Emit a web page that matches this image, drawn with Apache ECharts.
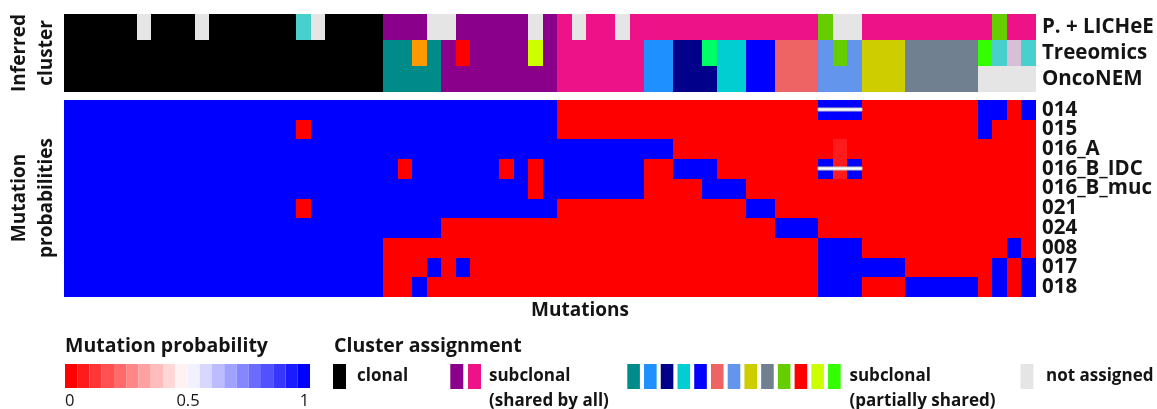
<!DOCTYPE html>
<html>
<head>
<meta charset="utf-8">
<script src="https://cdn.jsdelivr.net/npm/echarts@6/dist/echarts.min.js"></script>
<style>
  html, body { margin: 0; padding: 0; background: #ffffff; }
  #chart { width: 1157px; height: 409px; }
</style>
</head>
<body>
<div id="chart"></div>
<script>
// ---- data -------------------------------------------------------------
const methods = ['P. + LICHeE', 'Treeomics', 'OncoNEM'];
const samples = ['014', '015', '016_A', '016_B_IDC', '016_B_muc', '021', '024', '008', '017', '018'];

// Cluster assignment of each mutation (one array per method, 67 mutations)
const clusterLICHeE = [
  'K','K','K','K','K','NA','K','K','K','NA',
  'K','K','K','K','K','K','MT','NA','K','K',
  'K','K','PU','PU','PU','NA','NA','PU','PU','PU',
  'PU','PU','NA','PU','PK','NA','PK','PK','NA','PK',
  'PK','PK','PK','PK','PK','PK','PK','PK','PK','PK',
  'PK','PK','GR','NA','NA','PK','PK','PK','PK','PK',
  'PK','PK','PK','PK','GR','PK','PK'
];
const clusterTreeomics = [
  'K','K','K','K','K','K','K','K','K','K',
  'K','K','K','K','K','K','K','K','K','K',
  'K','K','TE','TE','OR','TE','PU','RD','PU','PU',
  'PU','PU','YG','PU','PK','PK','PK','PK','PK','PK',
  'DB','DB','NV','NV','SG','DT','DT','BL','BL','CO',
  'CO','CO','CF','GR','CF','YE','YE','YE','SL','SL',
  'SL','SL','SL','BG','MT','TH','MT'
];
const clusterOncoNEM = [
  'K','K','K','K','K','K','K','K','K','K',
  'K','K','K','K','K','K','K','K','K','K',
  'K','K','TE','TE','TE','TE','PU','PU','PU','PU',
  'PU','PU','PU','PU','PK','PK','PK','PK','PK','PK',
  'DB','DB','NV','NV','NV','DT','DT','BL','BL','CO',
  'CO','CO','CF','CF','CF','YE','YE','YE','SL','SL',
  'SL','SL','SL','NA','NA','NA','NA'
];

// Mutation probability per sample (67 mutations each)
const prob014 = [
  1,1,1,1,1,1,1,1,1,1, 1,1,1,1,1,1,1,1,1,1, 1,1,1,1,1,1,1,1,1,1,
  1,1,1,1,0,0,0,0,0,0, 0,0,0,0,0,0,0,0,0,0, 0,0,1,1,1,0,0,0,0,0,
  0,0,0,1,1,0,1
];
const prob015 = [
  1,1,1,1,1,1,1,1,1,1, 1,1,1,1,1,1,0,1,1,1, 1,1,1,1,1,1,1,1,1,1,
  1,1,1,1,0,0,0,0,0,0, 0,0,0,0,0,0,0,0,0,0, 0,0,0,0,0,0,0,0,0,0,
  0,0,0,1,0,0,0
];
const prob016A = [
  1,1,1,1,1,1,1,1,1,1, 1,1,1,1,1,1,1,1,1,1, 1,1,1,1,1,1,1,1,1,1,
  1,1,1,1,1,1,1,1,1,1, 1,1,0,0,0,0,0,0,0,0, 0,0,0,0.06,0,0,0,0,0,0,
  0,0,0,0,0,0,0
];
const prob016BIDC = [
  1,1,1,1,1,1,1,1,1,1, 1,1,1,1,1,1,1,1,1,1, 1,1,1,0,1,1,1,1,1,1,
  0,1,0,1,1,1,1,1,1,1, 0,0,1,1,1,0,0,0,0,0, 0,0,1,0.06,1,0,0,0,0,0,
  0,0,0,0,0,0,0
];
const prob016Bmuc = [
  1,1,1,1,1,1,1,1,1,1, 1,1,1,1,1,1,1,1,1,1, 1,1,1,1,1,1,1,1,1,1,
  1,1,0,1,1,1,1,1,1,1, 0,0,0,0,1,1,1,0,0,0, 0,0,0,0,0,0,0,0,0,0,
  0,0,0,0,0,0,0
];
const prob021 = [
  1,1,1,1,1,1,1,1,1,1, 1,1,1,1,1,1,0,1,1,1, 1,1,1,1,1,1,1,1,1,1,
  1,1,1,1,0,0,0,0,0,0, 0,0,0,0,0,0,0,1,1,0, 0,0,0,0,0,0,0,0,0,0,
  0,0,0,0,0,0,0
];
const prob024 = [
  1,1,1,1,1,1,1,1,1,1, 1,1,1,1,1,1,1,1,1,1, 1,1,1,1,1,1,0,0,0,0,
  0,0,0,0,0,0,0,0,0,0, 0,0,0,0,0,0,0,0,0,1, 1,1,0,0,0,0,0,0,0,0,
  0,0,0,0,0,0,0
];
const prob008 = [
  1,1,1,1,1,1,1,1,1,1, 1,1,1,1,1,1,1,1,1,1, 1,1,0,0,0,0,0,0,0,0,
  0,0,0,0,0,0,0,0,0,0, 0,0,0,0,0,0,0,0,0,0, 0,0,1,1,1,0,0,0,0,0,
  0,0,0,0,0,1,0
];
const prob017 = [
  1,1,1,1,1,1,1,1,1,1, 1,1,1,1,1,1,1,1,1,1, 1,1,0,0,0,1,0,1,0,0,
  0,0,0,0,0,0,0,0,0,0, 0,0,0,0,0,0,0,0,0,0, 0,0,1,1,1,1,1,1,0,0,
  0,0,0,0,1,0,1
];
const prob018 = [
  1,1,1,1,1,1,1,1,1,1, 1,1,1,1,1,1,1,1,1,1, 1,1,0,0,1,0,0,0,0,0,
  0,0,0,0,0,0,0,0,0,0, 0,0,0,0,0,0,0,0,0,0, 0,0,1,1,1,0,0,0,1,1,
  1,1,1,0,1,0,1
];

// Mutations whose calls in a sample are flagged (from, to, sample)
const flaggedSpans = [[52, 54, '014'], [52, 54, '016_B_IDC']];

// Legend tick labels for the probability scale
const probTicks = ['0', '0.5', '1'];

// ---- styling ----------------------------------------------------------
const clusterColors = {
  K: '#000000', PU: '#8b008b', PK: '#ee1289', NA: '#e5e5e5',
  TE: '#008b8b', DB: '#1e90ff', NV: '#00008b', DT: '#00ced1', BL: '#0000ff',
  CO: '#ee6363', CF: '#6495ed', YE: '#cdcd00', SL: '#708090', GR: '#66cd00',
  RD: '#ff0000', YG: '#ccff00', BG: '#33ff00', OR: '#ff9900', SG: '#00ff66',
  MT: '#48d1cc', TH: '#d8bfd8'
};
const partialKeys = ['TE','DB','NV','DT','BL','CO','CF','YE','SL','GR','RD','YG','BG'];

const FONT = '"Open Sans", sans-serif';
const INK = '#141414';

// ---- assemble series data ---------------------------------------------
const clusterRows = [clusterLICHeE, clusterTreeomics, clusterOncoNEM];
const probRows = [prob014, prob015, prob016A, prob016BIDC, prob016Bmuc, prob021, prob024, prob008, prob017, prob018];
const mutationIds = clusterLICHeE.map((_, i) => 'mut' + (i + 1));

const clusterData = [];
const clusterKeys = [];
clusterRows.forEach((row, r) => row.forEach((key, c) => {
  clusterData.push([c, r]);
  clusterKeys.push(key);
}));

const probData = [];
probRows.forEach((row, r) => row.forEach((v, c) => probData.push([c, r, v])));

const flaggedData = flaggedSpans.map(s => [s[0], s[1], samples.indexOf(s[2])]);

// 20-step red-white-blue scale
function scaleColor(t) {
  let r, g, b;
  if (t < 0.5) { r = 255; g = b = Math.round(255 * t / 0.5); }
  else { r = g = Math.round(255 * (1 - t) / 0.5); b = 255; }
  return 'rgb(' + r + ',' + g + ',' + b + ')';
}
const pieces = [];
for (let i = 0; i < 20; i++) {
  const p = { gte: i / 20, color: scaleColor(i / 19) };
  if (i < 19) p.lt = (i + 1) / 20; else p.lte = 1;
  pieces.push(p);
}

// Cell rectangle snapped to whole pixels so neighbouring cells meet without seams
function snap(v) { return Math.round(v + 1e-6); }
function cellShape(api) {
  const p = api.coord([api.value(0), api.value(1)]);
  const s = api.size([1, 1]);
  const x0 = snap(p[0] - s[0] / 2), x1 = snap(p[0] + s[0] / 2);
  const y0 = snap(p[1] - s[1] / 2), y1 = snap(p[1] + s[1] / 2);
  return { x: x0, y: y0, width: x1 - x0, height: y1 - y0 };
}

// ---- legend graphics --------------------------------------------------
function txt(x, y, text, opts) {
  opts = opts || {};
  return {
    type: 'text', x: x, y: y, rotation: opts.rotation || 0, silent: true,
    style: {
      text: text, fill: INK,
      font: (opts.weight || '700') + ' ' + (opts.size || 19) + 'px ' + FONT,
      textAlign: opts.align || 'left', align: opts.align || 'left',
      textVerticalAlign: 'middle', verticalAlign: 'middle',
      lineHeight: opts.lineHeight || 22
    }
  };
}
function swatch(x, color, w) {
  return { type: 'rect', silent: true, shape: { x: x, y: 364, width: w || 13, height: 25 }, style: { fill: color } };
}

const graphics = [
  txt(33, 53, 'Inferred\ncluster', { rotation: Math.PI / 2, align: 'center', lineHeight: 27 }),
  txt(33, 198, 'Mutation\nprobabilities', { rotation: Math.PI / 2, align: 'center', lineHeight: 27 }),
  txt(580, 311, 'Mutations', { align: 'center' }),
  txt(65, 346, 'Mutation probability', { size: 19.5 }),
  txt(65, 401, probTicks[0], { weight: '400', size: 16.5 }),
  txt(188, 401, probTicks[1], { weight: '400', size: 16.5, align: 'center' }),
  txt(304.5, 401, probTicks[2], { weight: '400', size: 16.5, align: 'center' }),
  txt(334, 346, 'Cluster assignment', { size: 19.5 }),
  swatch(333, clusterColors.K),
  txt(357, 376, 'clonal', { size: 17 }),
  swatch(450.3, clusterColors.PU),
  swatch(468, clusterColors.PK),
  txt(489, 376, 'subclonal', { size: 17 }),
  txt(489, 401, '(shared by all)', { size: 17 }),
  txt(849.5, 376, 'subclonal', { size: 17 }),
  txt(849.5, 401, '(partially shared)', { size: 17 }),
  swatch(1020.5, clusterColors.NA),
  txt(1046, 376, 'not assigned', { size: 17 })
];
partialKeys.forEach((k, i) => graphics.push(swatch(627.3 + i * 16.73, clusterColors[k], 12.6)));

// ---- chart ------------------------------------------------------------
const hiddenX = {
  type: 'category', data: mutationIds,
  axisLine: { show: false }, axisTick: { show: false }, axisLabel: { show: false }, splitLine: { show: false }
};
function rightY(names) {
  return {
    type: 'category', data: names, inverse: true, position: 'right',
    axisLine: { show: false }, axisTick: { show: false }, splitLine: { show: false },
    axisLabel: { interval: 0, margin: 6, color: INK, fontFamily: FONT, fontWeight: 700, fontSize: 20.5 }
  };
}

const chart = echarts.init(document.getElementById('chart'), null, { renderer: 'canvas' });
chart.setOption({
  animation: false,
  backgroundColor: '#ffffff',
  grid: [
    { left: 64, top: 14, width: 972, height: 78, containLabel: false, outerBoundsMode: 'none' },
    { left: 64, top: 100, width: 972, height: 197, containLabel: false, outerBoundsMode: 'none' }
  ],
  xAxis: [Object.assign({ gridIndex: 0 }, hiddenX), Object.assign({ gridIndex: 1 }, hiddenX)],
  yAxis: [Object.assign({ gridIndex: 0 }, rightY(methods)), Object.assign({ gridIndex: 1 }, rightY(samples))],
  visualMap: {
    type: 'piecewise', seriesIndex: 1, dimension: 2, orient: 'horizontal',
    left: 65, top: 364, padding: 0, itemGap: 0, itemWidth: 12.25, itemHeight: 24,
    itemSymbol: 'rect', showLabel: false, selectedMode: false, pieces: pieces
  },
  graphic: { elements: graphics },
  series: [
    {
      type: 'custom', xAxisIndex: 0, yAxisIndex: 0, data: clusterData, silent: true,
      encode: { x: 0, y: 1 },
      renderItem: function (params, api) {
        return { type: 'rect', shape: cellShape(api), style: { fill: clusterColors[clusterKeys[params.dataIndex]] } };
      }
    },
    {
      type: 'custom', xAxisIndex: 1, yAxisIndex: 1, data: probData, silent: true,
      encode: { x: 0, y: 1 },
      renderItem: function (params, api) {
        return { type: 'rect', shape: cellShape(api), style: { fill: api.visual('color') } };
      }
    },
    {
      type: 'custom', xAxisIndex: 1, yAxisIndex: 1, data: flaggedData, silent: true, z: 5,
      encode: { x: [0, 1], y: 2 },
      renderItem: function (params, api) {
        const a = api.coord([api.value(0), api.value(2)]);
        const b = api.coord([api.value(1), api.value(2)]);
        const s = api.size([1, 1]);
        const x0 = snap(a[0] - s[0] / 2), x1 = snap(b[0] + s[0] / 2);
        return {
          type: 'rect',
          shape: { x: x0, y: Math.round(a[1]) - 2, width: x1 - x0, height: 3 },
          style: { fill: '#ffffff', stroke: '#c4c4c4', lineWidth: 1 }
        };
      }
    }
  ]
});
</script>
</body>
</html>
